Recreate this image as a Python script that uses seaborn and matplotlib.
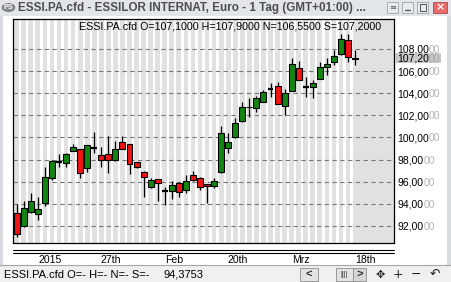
import numpy as np
import pandas as pd
import matplotlib
matplotlib.use("Agg")
import matplotlib.pyplot as plt
import seaborn as sns
from matplotlib.patches import Rectangle, Circle
from matplotlib.lines import Line2D

# ---------------- data ----------------
opens = [93.14, 91.97, 93.26, 93.08, 94.05, 96.31, 97.78, 97.67, 98.80, 98.93,
         97.21, 99.08, 98.39, 98.48, 97.96, 99.56, 99.41, 97.76, 96.91, 95.50,
         96.22, 95.19, 95.16, 95.86, 95.25, 96.61, 96.36, 95.75, 95.61, 96.85,
         99.02, 100.02, 101.52, 102.73, 102.64, 103.24, 104.38, 104.65, 102.87, 104.23,
         106.25, 104.60, 104.54, 105.29, 106.35, 106.85, 107.55, 108.81, 107.10]
highs = [93.99, 94.26, 94.95, 94.65, 97.30, 97.95, 98.50, 98.57, 99.41, 98.95,
         99.32, 100.52, 99.11, 100.13, 99.68, 100.13, 99.45, 97.80, 96.95, 96.30,
         96.25, 95.55, 96.07, 96.00, 96.61, 96.97, 96.40, 95.80, 96.31, 101.04,
         100.43, 101.73, 103.24, 103.54, 103.75, 104.29, 104.90, 105.04, 104.36, 107.21,
         106.92, 105.50, 105.20, 106.85, 107.16, 107.91, 109.36, 109.36, 107.90]
lows = [91.03, 91.88, 93.20, 92.54, 93.80, 96.15, 97.36, 97.36, 98.78, 96.31,
        96.85, 98.57, 97.30, 96.76, 97.90, 98.93, 96.67, 97.21, 94.65, 95.45,
        94.28, 93.90, 94.41, 94.65, 95.00, 96.10, 95.25, 94.08, 95.42, 96.80,
        98.57, 99.98, 101.43, 101.88, 102.28, 103.20, 103.69, 103.00, 102.03, 104.20,
        105.18, 103.69, 103.54, 105.27, 105.65, 106.55, 107.50, 106.85, 106.55]
closes = [91.27, 93.60, 94.28, 93.50, 96.45, 97.87, 97.78, 98.48, 99.11, 96.76,
          99.29, 99.08, 97.96, 97.96, 98.93, 98.96, 97.57, 97.30, 96.40, 96.16,
          95.86, 95.19, 95.68, 95.07, 96.07, 96.16, 95.55, 95.57, 96.09, 100.38,
          99.56, 101.28, 102.73, 102.75, 103.60, 104.08, 104.38, 103.03, 104.00, 106.62,
          105.20, 104.60, 104.90, 106.40, 106.62, 107.39, 108.90, 107.25, 107.20]

ytick_values = [92, 94, 96, 98, 100, 102, 104, 106, 108]
xtick_positions = [4.72, 13.4, 22.3, 31.4, 40.3, 49.4]
xtick_labels = ["2015", "27th", "Feb", "20th", "Mrz", "18th"]
last_price = 107.2
header_text = "ESSI.PA.cfd O=107,1000 H=107,9000 N=106,5500 S=107,2000"
window_title = "ESSI.PA.cfd - ESSILOR INTERNAT, Euro - 1 Tag (GMT+01:00) ..."
status_text = "ESSI.PA.cfd O=- H=- N=- S=-"
cursor_value = "94,3753"

# ---------------- style ----------------
sns.set_style("white")
plt.rcParams['font.family'] = ['Liberation Sans', 'DejaVu Sans']

W, H = 451, 282
fig = plt.figure(figsize=(W / 100, H / 100), dpi=100)
fig.patch.set_facecolor('white')


def fx(x):
    return x / W


def fy(y):
    return 1 - y / H


def frect(x0, y0, x1, y1, **kw):
    r = Rectangle((fx(x0), fy(y1)), (x1 - x0) / W, (y1 - y0) / H,
                  transform=fig.transFigure, **kw)
    fig.add_artist(r)
    return r


def fline(x0, y0, x1, y1, **kw):
    fig.add_artist(Line2D([fx(x0), fx(x1)], [fy(y0), fy(y1)],
                          transform=fig.transFigure, **kw))


# ---------------- plot area ----------------
ax_left, ax_right, ax_top, ax_bottom = 13, 394, 19, 242.5
ax = fig.add_axes([fx(ax_left), fy(ax_bottom), (ax_right - ax_left) / W,
                   (ax_bottom - ax_top) / H])
ax.set_facecolor('#e1e1e1')
for s in ax.spines.values():
    s.set_visible(True)
    s.set_color('black')
    s.set_linewidth(0.9)

df = pd.DataFrame({'o': opens, 'h': highs, 'l': lows, 'c': closes})
df['i'] = np.arange(len(df))
n = len(df)

# stripes (white gaps between candle slots)
for k in range(-1, n - 1):
    ax.axvspan(k + 0.5 - 0.16, k + 0.5 + 0.16, color='white', lw=0, zorder=0.2)

ax.set_axisbelow(True)
ax.grid(axis='y', color='#7a7a7a', linestyle=(0, (4, 3)), linewidth=0.8)
ax.grid(axis='x', visible=False)

up = df['c'] > df['o']
doji = df['c'] == df['o']
body_bottom = np.minimum(df['o'], df['c'])
body_height = (df['c'] - df['o']).abs()
colors = np.where(up, '#138513', '#f01414')

ax.vlines(df['i'], df['l'], df['h'], color='black', lw=0.9, zorder=2)
nd = ~doji
ax.bar(df['i'][nd], body_height[nd], bottom=body_bottom[nd], width=0.84,
       color=colors[nd.values], edgecolor='black', linewidth=0.8, zorder=3)
ax.hlines(df['o'][doji], df['i'][doji] - 0.42, df['i'][doji] + 0.42,
          color='black', lw=1.6, zorder=3)

px_per_slot = 7.05
first_x = 16.7
ax.set_xlim((ax_left - first_x) / px_per_slot, (ax_right - first_x) / px_per_slot)
px_per_unit = 11.06
ax.set_ylim(108 - (ax_bottom - 49) / px_per_unit, 108 + (49 - ax_top) / px_per_unit)

ax.yaxis.tick_right()
ax.set_yticks(ytick_values)
ax.set_yticklabels([f"{v:.2f}".replace('.', ',') for v in ytick_values])
ax.tick_params(axis='y', length=0, pad=2.3, labelsize=7.5, colors='black')
ax.set_xticks(xtick_positions)
ax.set_xticklabels(xtick_labels)
ax.tick_params(axis='x', length=0, pad=9, labelsize=7.6, colors='black')
ax.set_xlabel('')
ax.set_ylabel('')

# double line under plot
fline(ax_left, 250, ax_right, 250, color='black', lw=0.8)
fline(ax_left, 252.8, ax_right, 252.8, color='black', lw=0.8)

fig.canvas.draw()
renderer = fig.canvas.get_renderer()

# grey trailing digits on y labels
for lab, v in zip(ax.get_yticklabels(), ytick_values):
    bb = lab.get_window_extent(renderer)
    ypix = ax.transData.transform((0, v))[1]
    fig.text(bb.x1 / W, ypix / H, "00", color='#b4b4b4', fontsize=7.5,
             va='center_baseline', ha='left')

# current price box
yp = ax.transData.transform((0, last_price))[1]
ytop = H - yp
frect(395, ytop - 5.2, 441, ytop + 5.2, facecolor='#c9c9c9', edgecolor='none', zorder=4)
t1 = fig.text(fx(397), yp / H, f"{last_price:.2f}".replace('.', ','), fontsize=7.5,
              color='black', va='center_baseline', ha='left', zorder=5)
bb1 = t1.get_window_extent(renderer)
fig.text(bb1.x1 / W, yp / H, "00", fontsize=7.5, color='#a8a8a8',
         va='center_baseline', ha='left', zorder=5)


def fit_text(s, x0, x1, yc, base=8.0, **kw):
    t = fig.text(fx(x0), fy(yc), s, va='center', ha='left', fontsize=base, **kw)
    w = t.get_window_extent(renderer).width
    t.set_fontsize(base * (x1 - x0) / w)
    return t


# header inside plot
fit_text(header_text, 79, 382, 26.5, color='black', zorder=5)

# ---------------- window chrome ----------------
frect(0, 0, W, 15.5, facecolor='#e2e5e9', edgecolor='none', zorder=1)
frect(0, 15.5, 3, 265, facecolor='#d8dbdf', edgecolor='none', zorder=1)
frect(447, 15.5, W, 265, facecolor='#d8dbdf', edgecolor='none', zorder=1)
fig.add_artist(Circle((fx(8.5), fy(7.5)), 6.3 / W, transform=fig.transFigure,
                      facecolor='#8c8c8c', edgecolor='#6d6d6d', lw=0.6, zorder=2))
fig.text(fx(8.6), fy(7.6), "PS", color='white', fontsize=5.2, fontweight='bold',
         ha='center', va='center', zorder=3)
fit_text(window_title, 18.5, 365, 7.8, color='#4e4e4e', fontweight='bold', zorder=3)

btns = [(387, 398, '#e9ebee', '#9da3aa'), (402, 413, '#e9ebee', '#9da3aa'),
        (417, 428, '#e9ebee', '#9da3aa'), (433, 447, '#e66a6a', '#b34646')]
for (a, b, fc, ec) in btns:
    frect(a, 2, b, 13, facecolor=fc, edgecolor=ec, lw=0.6, zorder=2)
fig.text(fx(392.5), fy(7.5), "≡", fontsize=6, color='#555555', ha='center', va='center',
         family='DejaVu Sans', zorder=3)
fline(405, 10, 410, 10, color='#555555', lw=1.0, zorder=3)
frect(420, 4.5, 425.5, 10.5, facecolor='none', edgecolor='#555555', lw=0.7, zorder=3)
fig.text(fx(440), fy(7.5), "×", fontsize=8, color='white', fontweight='bold',
         ha='center', va='center', family='DejaVu Sans', zorder=3)

# status bar
frect(0, 265, W, H, facecolor='#f0f0f0', edgecolor='none', zorder=1)
fline(0, 265.3, W, 265.3, color='#a6a6a6', lw=0.8, zorder=2)
fit_text(status_text, 3.5, 150, 274.5, color='black', zorder=3)
fit_text(cursor_value, 163, 203, 274.5, color='black', zorder=3)
frect(300, 267.5, 318, 281, facecolor='#e3e3e3', edgecolor='#8e8e8e', lw=0.6, zorder=2)
fig.text(fx(309), fy(274.5), "<", fontsize=8, color='#333333', ha='center', va='center',
         fontweight='bold', zorder=3)
frect(336, 267.5, 353, 281, facecolor='#e3e3e3', edgecolor='#8e8e8e', lw=0.6, zorder=2)
fig.text(fx(344.5), fy(274.5), "||||", fontsize=5.5, color='#333333', ha='center',
         va='center', zorder=3)
frect(353, 267.5, 366, 281, facecolor='#d6d6d6', edgecolor='#8e8e8e', lw=0.6, zorder=2)
fig.text(fx(359.5), fy(274.5), ">", fontsize=8, color='#333333', ha='center', va='center',
         fontweight='bold', zorder=3)
for xc, glyph, fs in [(380, "✥", 8), (398, "+", 9), (415.5, "−", 9), (435, "↶", 9)]:
    fig.text(fx(xc), fy(274.5), glyph, fontsize=fs, color='#222222', ha='center',
             va='center', family='DejaVu Sans', zorder=3)

fig.savefig("out.png", dpi=100, facecolor=fig.get_facecolor())
